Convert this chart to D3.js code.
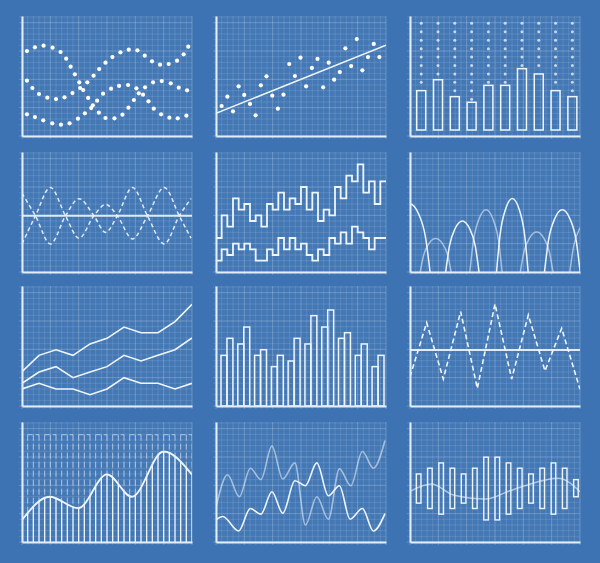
<!DOCTYPE html>
<html><head><meta charset="utf-8">
<script src="https://cdn.jsdelivr.net/npm/d3@7"></script>
<style>html,body{margin:0;padding:0;background:#3d73b2;}svg{display:block}</style>
</head><body><svg id="c" width="600" height="563"></svg>
<script>
// ---------- DATA (x and y in 0..100 panel units unless noted) ----------
// Panel 1: three dotted sine-like series
const dotsAx = [2.9,7.6,12.7,18.0,22.7,26.0,28.6,31.1,33.7,36.0,38.9,41.7,45.2,49.1,54.4,59.1,62.6,65.8,68.7,72.4,77.1,82.2,87.5,92.2,97.1];
const dotsAy = [70.8,73.9,75.3,73.6,70.0,64.4,57.8,51.4,44.7,38.3,31.7,25.6,19.4,15.0,14.7,17.8,23.6,30.0,35.6,40.6,44.7,45.8,43.9,40.3,38.1];
const dotsBx = [2.9,6.1,10.0,14.9,20.0,25.0,29.7,34.2,38.4,42.1,45.4,49.1,53.2,57.9,62.8,67.9,72.2,76.5,81.2,86.3,91.2,95.1,97.8];
const dotsBy = [46.1,40.0,35.0,31.9,30.8,32.2,35.8,40.0,44.7,50.3,55.8,61.1,65.8,69.7,71.9,71.4,66.9,62.2,59.4,60.0,62.8,68.1,74.4];
const dotsCx = [2.9,7.6,12.5,17.8,22.9,28.0,32.9,37.0,40.7,44.2,47.7,52.4,57.1,62.4,67.3,71.2,74.4,77.5,81.8,86.7,91.6,96.7];
const dotsCy = [18.1,15.8,13.1,10.6,9.4,10.6,14.4,18.9,23.3,29.4,35.3,39.4,41.7,42.5,39.7,34.4,28.9,22.8,18.1,15.3,14.7,16.9];
// Panel 2: scatter + trend line
const scatterX = [3.3,6.7,10.0,13.3,16.6,20.0,23.3,26.4,29.7,33.1,36.4,39.7,43.1,46.4,49.7,53.0,56.4,59.7,63.0,66.3,69.5,72.8,76.1,79.5,82.8,86.1,89.4,92.8,96.1];
const scatterY = [25.0,32.8,20.6,41.4,34.2,26.7,17.2,42.2,49.7,33.6,22.8,34.4,60.0,50.0,65.3,41.4,56.7,64.2,40.6,61.1,46.9,53.3,73.1,58.3,80.8,54.7,65.8,76.7,65.8];
const trendEnds = [18.9, 75.6];
// Panel 3: bars with dotted columns
const bars3 = [37.8,46.9,32.8,28.1,42.2,42.2,56.1,51.7,37.8,32.8];
const bars3Base = 5;
const dotTop3 = 93.9, dotStep3 = 7.03;
// Panel 4: two dashed waves around a centre line
const wave4x = [0,7.9,16.7,25.6,33.5,42.3,49.2,56.1,65.0,73.8,83.7,92.5,99.4];
const wave4a = [65.6,46.8,23.4,46.8,61.1,46.8,33.0,46.8,70.4,46.8,23.4,46.8,61.1];
const wave4b = [23.4,46.8,70.4,46.8,28.2,46.8,56.3,46.8,27.6,46.8,70.4,46.8,28.2];
const center4 = 46.8;
// Panel 5: two step lines (values in grid cells)
const stepUpper = [6,10,8,13,11,12,9,10,8,12,11,14,11,13,12,15,11,14,9,11,10,15,13,17,16,19,14,16,12,16];
const stepLower = [2,4,3,5,4,5,4,2,2,4,3,6,4,6,4,5,3,2,4,3,6,5,7,5,8,7,6,4,6,6];
// Panel 6: bumps [centre, half width, height]
const bumpsBright = [[0,11.8,56.6],[30.8,9.8,42.6],[60.2,9.3,61.3],[89.6,10.5,51.8]];
const bumpsFaint = [[15.1,9.1,28.0],[44.7,9.5,51.8],[74.5,9.6,33.3],[104,10,42]];
const bumpProfile = [[-1,0],[-0.78,0.5],[-0.42,0.86],[0,1],[0.42,0.86],[0.78,0.5],[1,0]];
// Panel 7: three lines
const lines7x = [0,10,20,30,40,50,60,70,80,90,100];
const line7a = [28.6,42.2,46.9,42.2,51.7,56.4,65.8,61.1,61.1,70.3,84.7];
const line7b = [18.9,28.3,32.8,23.6,28.3,32.8,42.2,37.5,42.2,46.9,56.7];
const line7c = [14.2,18.9,14.2,14.2,9.4,14.2,23.6,18.9,18.9,14.2,18.9];
// Panel 8: paired bars
const bars8 = [42.2,56.4,51.7,65.8,42.2,46.9,32.8,42.2,37.5,56.4,51.7,75.3,65.8,80.0,56.4,61.1,42.2,51.7,32.8,42.2];
// Panel 9: dashed zigzag
const zig9x = [0,9.8,19.6,29.8,39.6,50.0,59.8,69.6,79.4,89.2,100];
const zig9y = [24.4,69.4,22.5,78.6,14.7,85.0,22.5,75.8,29.2,64.7,13.9];
const center9 = 46.7;
// Panel 10: curve with columns (dashed frames span grid cells)
const curve10x = [0,16.3,33.1,50.0,64.6,83.3,100];
const curve10y = [18.4,37.7,28.2,56.4,37.7,75.4,56.1];
const top10 = 89.4;
const frames10 = [[1,3],[4,6],[7,9],[10,12],[13,15],[16,18],[19,21],[22,24],[25,27],[28,30]];
// Panel 11: two waves
const wave11x = [0,4,13.3,20.2,26.4,32.9,39.3,46.4,52.6,59.3,66.1,72.6,78.9,86.1,92.6,99.4];
const wave11a = [18.4,21.2,9.2,27.9,23.2,41.9,24.0,51.1,46.9,65.9,38.5,46.9,19.0,27.9,9.2,23.7];
const wave11bx = [0,6.8,13.7,20.2,26.4,32.9,39.3,46.4,52.6,59.3,66.1,72.6,79.3,86.1,92.6,99.4];
const wave11b = [28.8,56.1,37.7,61.5,52.0,79.9,52.5,65.9,14.2,37.7,19.0,60.9,46.9,75.4,61.5,84.6];
// Panel 12: floating bars + wave
const bars12Top = [56.7,61.5,65.9,61.5,56.7,61.5,70.7,70.7,65.9,61.5,56.7,61.5,65.9,61.5,52.0];
const bars12Bot = [32.4,27.9,23.2,27.9,32.4,27.9,18.4,18.4,23.2,27.9,32.4,27.9,23.2,27.9,37.7];
const wave12x = [0,12.7,25.5,44.7,58.8,67.6,87.3,100];
const wave12y = [42.2,48.3,39.1,35.8,42.7,46.9,53.1,41.9];

// ---------- LAYOUT ----------
const W = 170, H = 120, NX = 30, CELL = W / NX, NY = H / CELL;
const LEFTS = [22, 216, 410], TOPS = [16, 152, 286, 422];
const LINE = "#eef5fc", AXIS = "#e4eef9";
const svg = d3.select("#c");
const defs = svg.append("defs");
defs.append("clipPath").attr("id", "pclip").append("rect").attr("x", 0).attr("y", -2).attr("width", W).attr("height", H + 2);

function panel(col, row) {
  const g = svg.append("g").attr("transform", `translate(${LEFTS[col]},${TOPS[row]})`);
  const gx = d3.scaleLinear([0, NX], [0, W]);
  const gy = d3.scaleLinear([0, NY], [H, 0]);
  const grid = g.append("g");
  grid.append("rect").attr("width", W).attr("height", H).attr("fill", "rgba(255,255,255,0.04)");
  grid.selectAll("line.v").data(d3.range(0, NX + 1)).join("line")
    .attr("x1", d => gx(d)).attr("x2", d => gx(d)).attr("y1", 0).attr("y2", H + 3)
    .attr("stroke", d => d % 5 === 0 ? "rgba(255,255,255,0.22)" : "rgba(255,255,255,0.11)");
  grid.selectAll("line.h").data(d3.range(0, Math.floor(NY) + 1)).join("line")
    .attr("y1", d => gy(d)).attr("y2", d => gy(d)).attr("x1", -3).attr("x2", W)
    .attr("stroke", d => d % 5 === 0 ? "rgba(255,255,255,0.22)" : "rgba(255,255,255,0.11)");
  const plot = g.append("g").attr("clip-path", "url(#pclip)");
  const x = d3.scaleLinear([0, 100], [0, W]);
  const y = d3.scaleLinear([0, 100], [H, 0]);
  const ax = g.append("g");
  ax.append("g").attr("transform", `translate(0,${H})`).call(d3.axisBottom(x).tickValues([]).tickSizeOuter(0));
  ax.append("g").call(d3.axisLeft(y).tickValues([]).tickSizeOuter(0));
  ax.selectAll(".domain").attr("stroke", AXIS).attr("stroke-width", 2);
  return { g, plot, x, y, gx, gy };
}
function pathLine(p, xs, ys, x, y, curve) {
  return p.append("path").datum(d3.zip(xs, ys))
    .attr("d", d3.line().x(d => x(d[0])).y(d => y(d[1])).curve(curve || d3.curveLinear))
    .attr("fill", "none").attr("stroke", LINE).attr("stroke-width", 1.6);
}

// Panel 1
{
  const { plot, x, y } = panel(0, 0);
  [[dotsAx, dotsAy], [dotsBx, dotsBy], [dotsCx, dotsCy]].forEach(([xs, ys]) => {
    plot.append("g").selectAll("circle").data(d3.zip(xs, ys)).join("circle")
      .attr("cx", d => x(d[0])).attr("cy", d => y(d[1])).attr("r", 2.1).attr("fill", "#fff");
  });
}
// Panel 2
{
  const { plot, x, y } = panel(1, 0);
  pathLine(plot, [0, 100], trendEnds, x, y).attr("stroke-width", 1.5);
  plot.append("g").selectAll("circle").data(d3.zip(scatterX, scatterY)).join("circle")
    .attr("cx", d => x(d[0])).attr("cy", d => y(d[1])).attr("r", 2.1).attr("fill", "#fff");
}
// Panel 3
{
  const { plot, x, y } = panel(2, 0);
  const px = d3.scalePoint().domain(d3.range(bars3.length)).range([x(6.6), x(95.5)]);
  const bw = 9;
  bars3.forEach((v, i) => {
    const levels = d3.range(0, 14).map(k => dotTop3 - dotStep3 * k).filter(l => l > v + 1.5);
    plot.append("g").selectAll("circle").data(levels).join("circle")
      .attr("cx", px(i)).attr("cy", l => y(l)).attr("r", 1.5).attr("fill", "rgba(255,255,255,0.7)");
  });
  plot.append("g").selectAll("rect").data(bars3).join("rect")
    .attr("x", (d, i) => px(i) - bw / 2).attr("width", bw)
    .attr("y", d => y(d)).attr("height", d => y(bars3Base) - y(d))
    .attr("fill", "none").attr("stroke", LINE).attr("stroke-width", 1.5);
}
// Panel 4
{
  const { plot, x, y } = panel(0, 1);
  pathLine(plot, [0, 100], [center4, center4], x, y).attr("stroke-width", 2).attr("stroke", "#e0ebf7");
  [wave4a, wave4b].forEach(w => pathLine(plot, wave4x, w, x, y, d3.curveMonotoneX)
    .attr("stroke-dasharray", "4,3").attr("stroke-width", 1.5).attr("opacity", 0.9));
}
// Panel 5
{
  const { plot, gx, gy } = panel(1, 1);
  [stepUpper, stepLower].forEach(s => {
    const xs = d3.range(0, s.length + 1), ys = s.concat([s[s.length - 1]]);
    pathLine(plot, xs, ys, gx, gy, d3.curveStepAfter).attr("stroke-width", 1.8);
  });
}
// Panel 6
{
  const { plot, x, y } = panel(2, 1);
  const drawBump = (b, op) => {
    const [c, hw, h] = b;
    pathLine(plot, bumpProfile.map(p => c + p[0] * hw), bumpProfile.map(p => p[1] * h), x, y, d3.curveMonotoneX)
      .attr("opacity", op).attr("stroke-width", 1.5);
  };
  bumpsFaint.forEach(b => drawBump(b, 0.55));
  bumpsBright.forEach(b => drawBump(b, 1));
}
// Panel 7
{
  const { plot, x, y } = panel(0, 2);
  [line7a, line7b, line7c].forEach(l => pathLine(plot, lines7x, l, x, y));
}
// Panel 8
{
  const { plot, x, y } = panel(1, 2);
  const groups = d3.range(bars8.length / 2);
  const gb = d3.scaleBand().domain(groups).range([5, 168]).paddingInner(0.29);
  const ib = d3.scaleBand().domain([0, 1]).range([0, gb.bandwidth()]);
  plot.append("g").selectAll("rect").data(bars8).join("rect")
    .attr("x", (d, i) => gb(Math.floor(i / 2)) + ib(i % 2)).attr("width", ib.bandwidth())
    .attr("y", d => y(d)).attr("height", d => y(0) - y(d))
    .attr("fill", "none").attr("stroke", LINE).attr("stroke-width", 1.5);
}
// Panel 9
{
  const { plot, x, y } = panel(2, 2);
  pathLine(plot, [0, 100], [center9, center9], x, y).attr("stroke-width", 2).attr("stroke", "#e0ebf7");
  pathLine(plot, zig9x, zig9y, x, y).attr("stroke-dasharray", "5,3").attr("stroke-width", 1.6);
}
// Panel 10
{
  const { plot, x, y, gx } = panel(0, 3);
  const cp = pathLine(plot, curve10x, curve10y, x, y, d3.curveMonotoneX).attr("stroke-width", 1.8);
  const node = cp.node(), L = node.getTotalLength();
  const samples = d3.range(0, L + 0.5, 0.5).map(l => node.getPointAtLength(l));
  const curveAt = px => d3.least(samples, s => Math.abs(s.x - px)).y;
  const cols = d3.range(1, NX + 1);
  plot.append("g").selectAll("line").data(cols).join("line")
    .attr("x1", k => gx(k)).attr("x2", k => gx(k)).attr("y1", y(0)).attr("y2", k => curveAt(gx(k)))
    .attr("stroke", LINE).attr("stroke-width", 1.3);
  plot.append("g").selectAll("line").data(cols).join("line")
    .attr("x1", k => gx(k)).attr("x2", k => gx(k)).attr("y1", y(top10)).attr("y2", k => curveAt(gx(k)))
    .attr("stroke", LINE).attr("stroke-width", 1).attr("stroke-dasharray", "6,3").attr("opacity", 0.55);
  plot.append("g").selectAll("line").data(frames10).join("line")
    .attr("x1", f => gx(f[0])).attr("x2", f => gx(f[1])).attr("y1", y(top10)).attr("y2", y(top10))
    .attr("stroke", LINE).attr("stroke-width", 1).attr("stroke-dasharray", "5,3").attr("opacity", 0.6);
}
// Panel 11
{
  const { plot, x, y } = panel(1, 3);
  pathLine(plot, wave11bx, wave11b, x, y, d3.curveMonotoneX).attr("opacity", 0.55).attr("stroke-width", 1.6);
  pathLine(plot, wave11x, wave11a, x, y, d3.curveMonotoneX).attr("stroke-width", 1.6);
}
// Panel 12
{
  const { plot, x, y } = panel(2, 3);
  const px = d3.scalePoint().domain(d3.range(bars12Top.length)).range([x(5.1), x(97.6)]);
  const bw = 4.6;
  pathLine(plot, wave12x, wave12y, x, y, d3.curveMonotoneX).attr("opacity", 0.6).attr("stroke-width", 1.5);
  plot.append("g").selectAll("rect").data(bars12Top).join("rect")
    .attr("x", (d, i) => px(i) - bw / 2).attr("width", bw)
    .attr("y", d => y(d)).attr("height", (d, i) => y(bars12Bot[i]) - y(d))
    .attr("fill", "none").attr("stroke", LINE).attr("stroke-width", 1.4);
}
</script></body></html>
